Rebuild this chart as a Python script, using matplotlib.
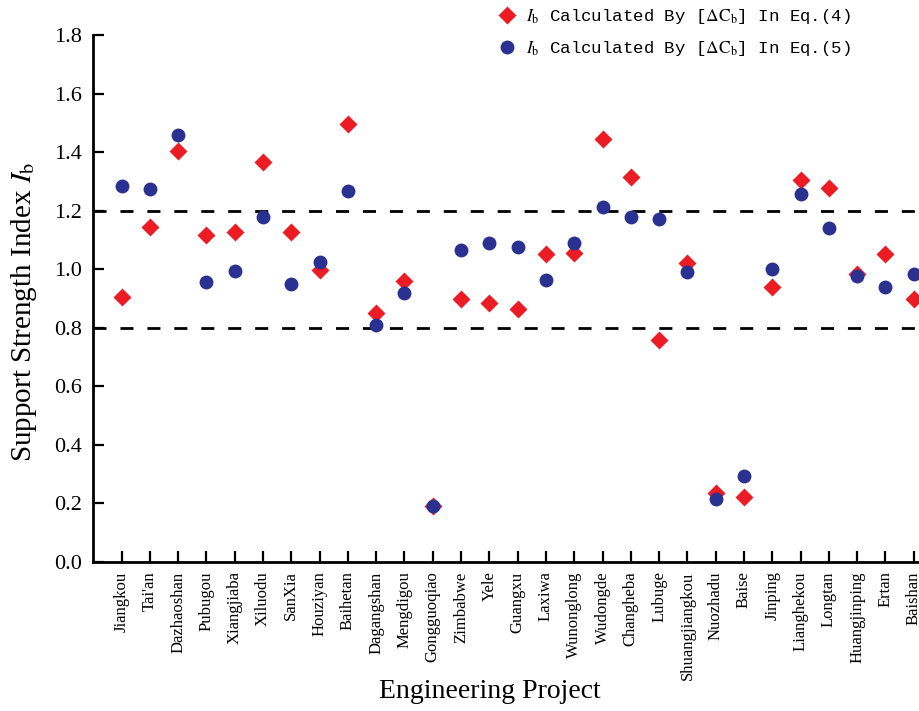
import matplotlib.pyplot as plt
import numpy as np

projects = ['Jiangkou', "Tai'an", 'Dazhaoshan', 'Pubugou', 'Xiangjiaba', 'Xiluodu',
            'SanXia', 'Houziyan', 'Baihetan', 'Dagangshan', 'Mengdigou', 'Gongguoqiao',
            'Zimbabwe', 'Yele', 'Guangxu', 'Laxiwa', 'Wunonglong', 'Wudongde',
            'Changheba', 'Lubuge', 'Shuangjiangkou', 'Nuozhadu', 'Baise', 'Jinping',
            'Lianghekou', 'Longtan', 'Huangjinping', 'Ertan', 'Baishan']

# I_b from eq. (4) and eq. (5)
ib_eq4 = [0.904, 1.145, 1.404, 1.118, 1.127, 1.366, 1.127, 0.997, 1.495, 0.851,
          0.959, 0.191, 0.898, 0.885, 0.864, 1.051, 1.054, 1.444, 1.314, 0.758,
          1.020, 0.234, 0.220, 0.940, 1.304, 1.278, 0.983, 1.051, 0.898]
ib_eq5 = [1.284, 1.275, 1.459, 0.957, 0.992, 1.179, 0.948, 1.025, 1.268, 0.808,
          0.917, 0.191, 1.066, 1.089, 1.077, 0.963, 1.088, 1.213, 1.179, 1.171,
          0.991, 0.214, 0.294, 1.000, 1.256, 1.139, 0.977, 0.940, 0.983]

limits = [0.8, 1.2]
yticks = [0.0, 0.2, 0.4, 0.6, 0.8, 1.0, 1.2, 1.4, 1.6, 1.8]

plt.rcParams['mathtext.fontset'] = 'stix'
serif = 'Liberation Serif'
mono = 'Liberation Mono'

x = np.arange(1, len(projects) + 1)

fig = plt.figure(figsize=(9.2, 7.11), dpi=100)
ax = fig.add_axes([0.1014, 0.21, 0.9225, 0.7408])

for y0 in limits:
    ax.axhline(y0, color='black', lw=2, linestyle=(0, (4.7, 5)), zorder=1)

l4, = ax.plot(x, ib_eq4, 'D', color='#ec1c24', markersize=9.4, mec='none', zorder=3)
l5, = ax.plot(x, ib_eq5, 'o', color='#2b3190', markersize=10, mec='none', zorder=4)

ax.set_xlim(0, 30)
ax.set_ylim(0, 1.8)
ax.set_xticks(x)
ax.set_xticklabels(projects, rotation=90, fontsize=12, family=serif)
ax.set_yticks(yticks)
ax.set_yticklabels([f'{v:.1f}' for v in yticks], fontsize=16, family=serif)
ax.tick_params(axis='both', direction='in', length=8, width=1.6)
ax.tick_params(axis='x', pad=7)
ax.tick_params(axis='y', pad=8)

ax.spines['top'].set_visible(False)
ax.spines['right'].set_visible(False)
ax.spines['left'].set_linewidth(2)
ax.spines['bottom'].set_linewidth(2)

ax.set_ylabel(r'Support Strength Index $I_\mathrm{b}$', fontsize=21, family=serif)
ax.yaxis.set_label_coords(-0.064, 0.474)
ax.set_xlabel('Engineering Project', fontsize=20, family=serif)
ax.xaxis.set_label_coords(0.467, -0.222)

fig.legend([l4, l5],
           [r'$I_\mathrm{b}$ Calculated By [$\Delta\mathrm{C_b}$] In Eq.(4)',
            r'$I_\mathrm{b}$ Calculated By [$\Delta\mathrm{C_b}$] In Eq.(5)'],
           loc='upper left', bbox_to_anchor=(0.523, 1.012), frameon=False,
           prop={'family': mono, 'size': 12.5}, handletextpad=0.5,
           labelspacing=0.72, handlelength=1.2)

fig.savefig('out.png', dpi=100)
